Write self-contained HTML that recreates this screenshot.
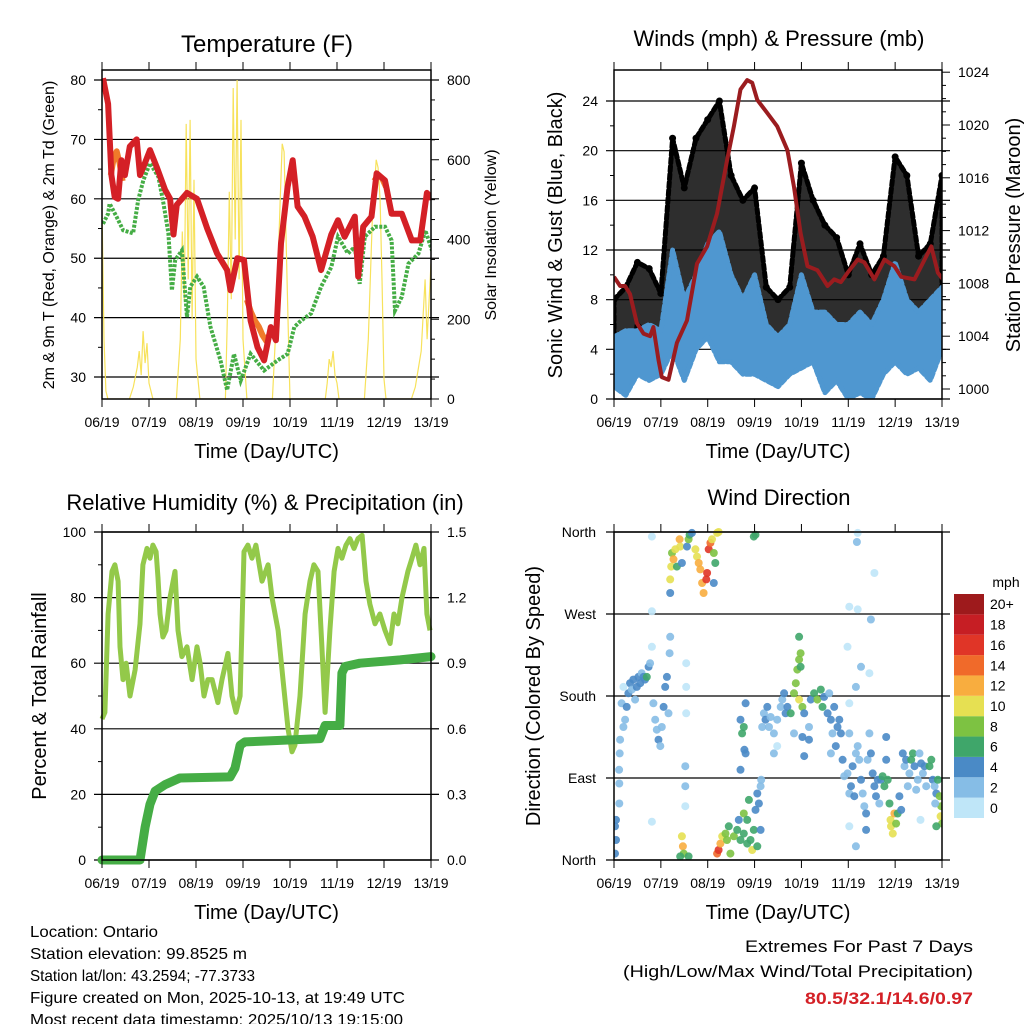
<!DOCTYPE html>
<html><head><meta charset="utf-8"><style>
html,body{margin:0;padding:0;background:#fff;}
svg{display:block;font-family:"Liberation Sans",Arial,sans-serif;}
</style></head><body>
<svg id="c" width="1024" height="1024" viewBox="0 0 1024 1024" xmlns="http://www.w3.org/2000/svg">
<rect width="1024" height="1024" fill="#fff"/>
</svg>
<script>
// ---------- data (hours since 06/19 19 UTC) ----------
const dayLabels = ["06/19","07/19","08/19","09/19","10/19","11/19","12/19","13/19"];
const tempHours = [0.5,3.1,4.8,6.5,8.2,9.9,11.7,14.2,17.7,19.4,21.9,24.5,27.9,32.2,34.8,36.5,38.2,43.4,48.5,53.7,58.8,63.9,65.6,69.1,72.5,75.9,79.4,82.8,86.2,88.8,91.4,94.8,97.4,99.9,103.4,107.6,111.9,117.1,120.5,123.9,129.1,130.8,133.4,137.6,140.2,144.5,147.9,153.1,158.2,162.5,165.9,168.5];
const tempValues = [80.3,76,64,60.3,60,66.5,64,68.8,70,64,66,68.2,65.4,61.5,60,54,59,61,60,55,50.8,48,44.6,50,49.7,39.5,35,32.8,38.4,36.2,52.5,62,66.5,58.7,57,53.6,48,54,56.4,53.6,57,46.9,55.3,57,64.3,63.1,57.5,57.5,53,53,61,60];
const temp9Hours = [4.5,6,7.5,9,10.5, 74,76,78,80,82,84,86, 139,141,143,145];
const temp9Values = [64,67,68,66,63, 43,41,39.5,38.5,37,36,37.5, 63,64,63.5,62];
const dewHours = [0.5,3.1,3.9,7.4,10.8,15.9,18.5,21.1,24.5,28.8,31.4,33.9,35.7,37.4,40.8,43.4,45.1,48.5,51.9,55.4,60.5,63.9,67.4,70.8,75.9,82.8,89.6,94.8,98.2,101.6,106.8,111.9,117.1,120.5,125.6,129.1,131.6,134.2,139.4,144.5,147.9,149.6,153.1,156.5,161.6,165.1,168.5];
const dewValues = [55.8,57.5,59.2,57,54.7,54.2,59.8,63.1,66,63.7,59.2,54.2,44.6,49.7,51.3,40.1,45.2,46.9,45.2,38.4,32.8,27.8,33.9,29.4,33.9,31.1,32.8,33.9,38.4,39.5,40.7,45.2,48.5,53.6,50.8,51.9,45.7,53.6,55.3,55.3,53,41.2,43.5,49.1,50.8,54.7,51.3];
const solarHours = [0,1,2,3,14,16,18,19,20,21,22,23,24,26,38,40,41,42,43,44,45,46,47,48,50,63,64,65,66,67,68,69,70,71,72,74,87,89,91,92,93,94,95,96,114,115,116,117,118,119,120,121,134,136,138,140,141,142,143,144,145,158,160,163,165,166,168];
const solarValues = [480,150,20,0,0,30,80,120,60,170,90,140,40,0,0,150,420,250,690,300,700,200,550,100,0,0,200,520,250,780,400,800,300,700,150,0,0,200,500,640,620,400,200,0,0,40,100,80,120,60,40,0,0,150,450,600,580,500,300,50,0,0,30,120,300,150,340];

const windHours = [0,6,12,18,24,30,36,42,48,54,60,66,72,78,84,90,96,102,108,114,120,126,132,138,144,150,156,162,168];
const windLo = [1,0.3,2,1.5,2,4,1.5,4,5,3,3,2,2,1.5,1,2,2.5,3,0.5,1.5,0,0.5,0,2,3,2,2.5,1.5,4];
const windHi = [5,5.5,5.5,6,5.5,12,8,10,12.5,13.5,10,8,10,6,5,6,10,7,7,6,6,7,6,8,11,8,7,8,9];
const gustLo = [4,3,6,5,4,10,8,10,11,12,9,8,8,4,4,4,8,7,6,5,4,5,4,6,8,7,5,5,8];
const gustHi = [8,9,11,10.5,8.5,21,17,21,22.5,24,18,16,17,9,8,9,19,16,14,13,10,12.5,10,11.5,19.5,18,11.5,12.5,18];
const presHours = [0,3.1,5.7,8.2,11.7,15.1,18.5,20.2,22.8,24.5,27.9,32.2,37.4,42.5,47.7,52.8,57.9,61.4,64.8,68.2,70.8,73.4,78.5,83.6,88.8,92.2,95.6,99.1,104.2,109.4,112.8,116.2,119.6,124.8,128.2,133.4,138.5,143.6,147.1,153.9,159.1,162.5,165.9,168.5];
const presValues = [1008.5,1007.8,1007.8,1007.2,1005,1004.2,1004,1004.7,1002.2,1000.9,1000.7,1003.5,1005.2,1009.5,1010.8,1013.3,1017.3,1019.9,1022.7,1023.4,1023.2,1021.9,1020.9,1019.9,1018.1,1015.3,1011.8,1009.3,1009,1007.8,1008.3,1008.1,1008.8,1009.8,1009.6,1008.3,1009.8,1009.3,1008.5,1008.3,1009.8,1010.8,1008.8,1008.3];

const rhHours = [0,1.5,3.1,5.1,6.6,8.2,9.2,10.7,12.3,14.3,16.9,19.4,20.9,23,24.5,26,27.6,28.6,29.6,31.1,32.7,34.7,37.3,38.8,40.8,43.4,46,48.5,50.1,52.1,54.1,56.2,59.2,61.3,64.3,66.4,68.4,70.5,72.5,74.5,76.6,78.6,81.7,84.8,86.8,89.9,92.4,95,97,98.5,101.1,103.7,106.2,108.2,110.3,112.3,113.9,116.4,118.5,120.5,122.5,124.6,126.6,128.7,130.7,132.8,134.8,136.8,139.4,141.9,144.5,147.1,149.1,151.1,153.2,156.2,158.3,160.3,162.4,164.4,165.9,167.5];
const rhValues = [43,45,75,88,90,85,65,55,60,50,58,72,90,95,92,96,94,86,75,68,70,80,88,70,62,65,55,65,60,50,55,55,48,55,63,50,45,50,94,96,92,96,85,90,80,70,55,40,33,35,50,75,85,90,88,65,45,70,88,95,92,96,98,95,98,99,85,78,72,75,70,66,75,72,80,88,92,96,90,95,75,70];
const rainHours = [0,19.4,22,24.5,27.1,32.2,39.8,65.4,67.9,70.5,73,111.3,113.9,121.5,122.5,124.1,131.7,152.2,168];
const rainValues = [0,0,0.15,0.255,0.315,0.345,0.375,0.38,0.42,0.525,0.54,0.555,0.615,0.615,0.855,0.885,0.9,0.915,0.93];

// wind direction observations: [hour, degrees, mph]
const dirObs = [
[0.5,7,4],[1,22,4],[0.5,37,4],[1,44,4],[2.7,62,2],[2.7,84,2],[2.6,99,2],[2.9,117,2],[3.1,132,2],
[3.9,172,2],[4.8,146,2],[5.7,154,3],[6.5,168,4],[7.4,183,4],[8.2,194,4],[9.1,187,3],[9.9,198,4],[10.8,176,3],[11.7,190,4],[12.5,201,4],[13.4,194,4],[14.2,205,3],[15.1,201,4],[15.9,198,5],[16.8,201,6],[17.7,212,4],[18.5,216,2],[4.8,190,1],[19.4,234,1],[19.4,273,1],[19.4,355,1],[19.4,42,1],
[20.2,172,2],[21.1,154,3],[21.9,143,2],[22.8,132,4],[23.7,125,3],[24.5,146,3],[25.4,168,4],[26.2,190,4],[27.1,201,4],[27.9,161,2],[28.5,227,3],[28.8,245,3],[28.8,293,4],
[28.8,308,10],[29.3,322,10],[29.7,337,8],[30.5,330,12],[31.4,341,10],[32.2,322,7],[33.6,352,12],[33.9,344,10],[34.8,326,4],[37.4,344,4],[38.2,352,8],[38.7,357,6],[39.9,359,4],[41.7,341,10],[42.5,333,10],[43.4,326,12],[44.2,319,12],[45.1,304,12],[45.9,293,12],[47.3,308,16],[47.7,315,16],[48.5,341,16],[49.4,348,14],[50.2,352,10],[51.1,337,8],[51.9,326,6],[51.1,304,4],[52.8,359,10],[53.6,360,10],[71.6,355,6],[72.5,357,7],
[34.8,26,10],[35.3,15,12],[35.7,7,8],[33.9,4,6],[38.2,4,6],[36.5,59,1],[36.5,81,2],[36.5,103,2],[37,161,1],[37,190,1],[37,216,1],
[52.8,7,14],[53.6,11,16],[54.5,18,12],[55.4,26,10],[57.1,29,8],[57.9,22,8],[58.8,37,6],[59.6,7,8],[61.4,26,8],[63.1,33,6],[63.9,44,5],[64.8,22,6],[66.5,51,8],[68.2,44,7],[69.1,66,6],[69.9,22,6],[70.8,11,10],[71.6,33,6],[72.5,55,5],[73.4,73,4],[74.2,62,4],[75.1,81,3],[75.4,88,3],[66.5,29,7],[68.2,18,6],[73.4,15,7],[75.1,33,5],
[64.8,154,4],[65.6,139,6],[66.5,146,6],[66.8,121,5],[67.4,117,4],[64.8,99,4],[67.4,172,4],
[75.9,146,2],[76.8,161,3],[77.6,154,4],[78.5,168,4],[79.4,146,3],[80.2,157,3],[81.9,139,2],[83.6,154,2],[85.4,168,3],[86.2,176,3],[87.1,183,4],[87.9,161,4],[88.8,168,5],[90.5,161,6],[92.2,183,8],[93.1,194,8],[93.9,209,8],[94.8,220,8],[95.6,212,7],[94.8,176,10],[95.6,227,8],[94.8,245,6],[96.5,168,8],[97.4,161,4],[96.5,135,4],[97.4,114,4],[81.9,117,2],[83.6,125,1],[92.2,139,2],[99.9,146,2],[99.9,132,4],
[100.8,176,4],[102.5,183,6],[104.2,176,8],[105.9,187,7],[106.8,168,6],[107.6,179,4],[109.4,161,4],[110.2,183,3],[111.1,154,4],[111.9,139,3],[112.8,168,4],[113.6,125,5],[114.5,146,4],[115.4,154,4],[111.1,117,2],[116.2,139,4],
[117.1,110,4],[117.9,92,3],[119.6,95,3],[120.5,73,2],[121.4,81,4],[122.2,103,4],[123.1,70,5],[123.9,117,3],[124.8,125,3],[125.6,110,2],[126.5,88,4],[127.4,73,3],[128.2,59,2],[129.1,51,4],[129.9,110,2],[130.8,139,2],[131.6,117,4],[120.5,139,2],[120.5,172,1],[119.6,234,1],[120.5,278,1],[123.9,190,2],[124.8,275,1],[126.5,212,2],[131.6,264,2],[130.8,205,1],[133.4,315,1],[124.8,359,1],[124.4,349,3],[120.5,37,1],[123.9,15,2],[129.1,33,4],
[132.5,95,4],[133.4,81,4],[134.2,70,4],[135.1,88,5],[135.9,62,3],[136.8,88,4],[137.6,92,6],[138.5,81,6],[139.4,110,4],[140.2,88,6],[139.4,135,4],[141.1,62,7],
[141.6,44,10],[141.9,37,10],[142.8,29,10],[143.6,51,12],[144.5,40,8],[145.3,51,6],[146.2,70,5],[147.1,55,4],
[147.9,117,4],[148.8,103,3],[149.6,110,4],[150.5,81,2],[151.3,95,3],[152.2,110,6],[153.1,117,6],[153.9,103,4],[154.8,77,3],[155.6,88,2],[156.5,117,2],[157.3,106,4],[158.2,95,3],[159.1,103,4],[159.9,81,2],[161.6,103,6],[162.5,110,6],[163.3,88,4],[164.2,81,3],[165.1,73,5],[165.9,88,7],[166.8,70,8],[167.6,59,9],[167.3,48,10],[168,40,8],[165.1,37,6],[157,44,1],[164.5,62,3]
];
const speedColors = ["#bfe6f8","#86bde6","#4a8ac6","#3fa66a","#7dc242","#e6e052","#f8ad3f","#f06a2a","#e03527","#c61e24","#9e1a1c"];
const speedLabels = ["0","2","4","6","8","10","12","14","16","18","20+"];

// ---------- helpers ----------
const NS="http://www.w3.org/2000/svg";
const svg=document.getElementById('c');
function el(tag,attrs,parent){const e=document.createElementNS(NS,tag);for(const k in attrs)e.setAttribute(k,attrs[k]);(parent||svg).appendChild(e);return e;}
function txt(s,x,y,size,anchor,parent,extra){const t=el('text',Object.assign({x:x,y:y,'font-size':size,'text-anchor':anchor||'middle',fill:'#000'},extra||{}),parent);t.textContent=s;return t;}
function pathFrom(xs,ys,fx,fy){let d='';for(let i=0;i<xs.length;i++){d+=(i?'L':'M')+fx(xs[i]).toFixed(1)+','+fy(ys[i]).toFixed(1);}return d;}

function frame(g,x0,y0,w,h){
  el('rect',{x:x0,y:y0,width:w,height:h,fill:'none',stroke:'#000','stroke-width':1.5},g);
  const xs=h2x(x0,w);
  dayLabels.forEach((lab,i)=>{const x=xs(i*24);
    el('line',{x1:x,y1:y0,x2:x,y2:y0-8,stroke:'#000','stroke-width':1},g);
    el('line',{x1:x,y1:y0+h,x2:x,y2:y0+h+8,stroke:'#000','stroke-width':1},g);
    const t=txt(lab,x,y0+h+28,14,'middle',g);
    
    
  });
  const xt=txt('Time (Day/UTC)',x0+w/2,y0+h+59,20,'middle',g);
  
  
}
function h2x(x0,w){return h=>x0+h/168*w;}
function grid(g,x0,w,y){el('line',{x1:x0-8,y1:y,x2:x0+w+8,y2:y,stroke:'#000','stroke-width':1.2},g);}

// ========== Panel 1: Temperature ==========
(function(){
  const g=el('g',{});  
  const x0=102,y0=70,w=329,h=329; const X=h2x(x0,w);
  const yT=v=>399-(v-26.3)*5.94; const yS=v=>399-v*319/800;
  [30,40,50,60,70,80].forEach(v=>{grid(g,x0,w,yT(v));const t=txt(String(v),86,yT(v)+5,14,'end',g);});
  [35,45,55,65,75].forEach(v=>el('line',{x1:x0-4,y1:yT(v),x2:x0,y2:yT(v),stroke:'#000'},g));
  [0,200,400,600,800].forEach(v=>{el('line',{x1:x0+w,y1:yS(v),x2:x0+w+8,y2:yS(v),stroke:'#000'},g);const t=txt(String(v),447,yS(v)+5,14,'start',g);});
  for(let v=50;v<800;v+=50){if(v%200)el('line',{x1:x0+w,y1:yS(v),x2:x0+w+4,y2:yS(v),stroke:'#000'},g);}
  const cp=el('clipPath',{id:'cp1'},g); el('rect',{x:x0,y:y0,width:w,height:h},cp);
  const d=el('g',{'clip-path':'url(#cp1)'},g);
  const s=el('path',{d:pathFrom(solarHours,solarValues,X,yS),fill:'none',stroke:'#f7e25c','stroke-width':1.2},d);  
  const dw=el('path',{d:pathFrom(dewHours,dewValues,X,yT),fill:'none',stroke:'#45ad45','stroke-width':4,'stroke-dasharray':'3 1.5'},d);  
  const o=el('path',{d:pathFrom(temp9Hours.slice(0,5),temp9Values.slice(0,5),X,yT)+pathFrom(temp9Hours.slice(5,12),temp9Values.slice(5,12),X,yT)+pathFrom(temp9Hours.slice(12),temp9Values.slice(12),X,yT),fill:'none',stroke:'#f07a2a','stroke-width':6,'stroke-linejoin':'round'},d);  
  const r=el('path',{d:pathFrom(tempHours,tempValues,X,yT),fill:'none',stroke:'#d42026','stroke-width':6,'stroke-linejoin':'round'},d);  
  frame(g,x0,y0,w,h);
  const t=txt('Temperature (F)',267,52,24,'middle',g);  
  const yl=txt('2m & 9m T (Red, Orange) & 2m Td (Green)',0,0,16,'middle',g,{transform:'translate(54,235) rotate(-90)'});  
  const yr=txt('Solar Insolation (Yellow)',0,0,16,'middle',g,{transform:'translate(496,235) rotate(-90)'});  
})();

// ========== Panel 2: Winds & Pressure ==========
(function(){
  const g=el('g',{});  
  const x0=614,y0=70,w=328,h=329; const X=h2x(x0,w);
  const yW=v=>399-v*298/24; const yP=v=>389-(v-1000)*13.2;
  [0,4,8,12,16,20,24].forEach(v=>{grid(g,x0,w,yW(v));const t=txt(String(v),598,yW(v)+5,14,'end',g);});
  [2,6,10,14,18,22].forEach(v=>el('line',{x1:x0-4,y1:yW(v),x2:x0,y2:yW(v),stroke:'#000'},g));
  [1000,1004,1008,1012,1016,1020,1024].forEach(v=>{el('line',{x1:x0+w,y1:yP(v),x2:x0+w+8,y2:yP(v),stroke:'#000'},g);const t=txt(String(v),958,yP(v)+5,14,'start',g);});
  for(let v=1001;v<1024;v++){if(v%4)el('line',{x1:x0+w,y1:yP(v),x2:x0+w+4,y2:yP(v),stroke:'#000'},g);}
  const cp=el('clipPath',{id:'cp2'},g); el('rect',{x:x0,y:y0,width:w,height:h},cp);
  const d=el('g',{'clip-path':'url(#cp2)'},g);
  function band(lo,hi,col,op,name){
    let p='';for(let i=0;i<windHours.length;i++)p+=(i?'L':'M')+X(windHours[i]).toFixed(1)+','+yW(hi[i]).toFixed(1);
    for(let i=windHours.length-1;i>=0;i--)p+='L'+X(windHours[i]).toFixed(1)+','+yW(lo[i]).toFixed(1);
    const e=el('path',{d:p+'Z',fill:col,'fill-opacity':op,stroke:col,'stroke-width':5,'stroke-linejoin':'round','stroke-dasharray':'5 3','stroke-linecap':'round'},d);
     
  }
  band(gustLo,gustHi,'#000',0.82,'gust-band');
  windHours.forEach((hh,i)=>{const c=el('circle',{cx:X(hh),cy:yW(gustHi[i]),r:3.5,fill:'#000'},d);});
  band(windLo,windHi,'#4f97d0',1,'wind-band');
  const p=el('path',{d:pathFrom(presHours,presValues,X,yP),fill:'none',stroke:'#9b1c1f','stroke-width':4,'stroke-linejoin':'round'},d);  
  frame(g,x0,y0,w,h);
  const t=txt('Winds (mph) & Pressure (mb)',779,46,22,'middle',g);  
  const yl=txt('Sonic Wind & Gust (Blue, Black)',0,0,20,'middle',g,{transform:'translate(562,235) rotate(-90)'});  
  const yr=txt('Station Pressure (Maroon)',0,0,20,'middle',g,{transform:'translate(1020,235) rotate(-90)'});  
})();

// ========== Panel 3: RH & Precip ==========
(function(){
  const g=el('g',{});  
  const x0=102,y0=532,w=329,h=328; const X=h2x(x0,w);
  const yR=v=>860-v*3.28; const yPr=v=>860-v/1.5*328;
  [0,20,40,60,80,100].forEach(v=>{grid(g,x0,w,yR(v));const t=txt(String(v),86,yR(v)+5,14,'end',g);});
  [10,30,50,70,90].forEach(v=>el('line',{x1:x0-4,y1:yR(v),x2:x0,y2:yR(v),stroke:'#000'},g));
  ["0.0","0.3","0.6","0.9","1.2","1.5"].forEach(s=>{const v=parseFloat(s);el('line',{x1:x0+w,y1:yPr(v),x2:x0+w+8,y2:yPr(v),stroke:'#000'},g);const t=txt(s,447,yPr(v)+5,14,'start',g);});
  const cp=el('clipPath',{id:'cp3'},g); el('rect',{x:x0-6,y:y0,width:w+12,height:h+6},cp);
  const d=el('g',{'clip-path':'url(#cp3)'},g);
  const r=el('path',{d:pathFrom(rhHours,rhValues,X,yR),fill:'none',stroke:'#93c94a','stroke-width':5,'stroke-linejoin':'round'},d);  
  const p=el('path',{d:pathFrom(rainHours,rainValues,X,yPr),fill:'none',stroke:'#45ad45','stroke-width':9,'stroke-linejoin':'round','stroke-linecap':'round'},d);  
  frame(g,x0,y0,w,h);
  const t=txt('Relative Humidity (%) & Precipitation (in)',265,510,22,'middle',g);  
  const yl=txt('Percent & Total Rainfall',0,0,20,'middle',g,{transform:'translate(46,696) rotate(-90)'});  
})();

// ========== Panel 4: Wind Direction ==========
(function(){
  const g=el('g',{});  
  const x0=614,y0=532,w=328,h=328; const X=h2x(x0,w);
  const yD=v=>860-v/360*328;
  const dirLabels=["North","East","South","West","North"];
  dirLabels.forEach((s,i)=>{const v=i*90;grid(g,x0,w,yD(v));const t=txt(s,596,yD(v)+5,14,'end',g);});
  const cp=el('clipPath',{id:'cp4'},g); el('rect',{x:x0,y:y0-4,width:w,height:h+8},cp);
  const d=el('g',{'clip-path':'url(#cp4)'},g);
  dirObs.forEach(o=>{const idx=Math.min(10,Math.floor(o[2]/2));
    const c=el('circle',{cx:X(o[0]).toFixed(1),cy:yD(o[1]).toFixed(1),r:4,fill:speedColors[idx],'fill-opacity':0.9},d);
    
    
  });
  frame(g,x0,y0,w,h);
  const t=txt('Wind Direction',779,505,22,'middle',g);  
  const yl=txt('Direction (Colored By Speed)',0,0,20,'middle',g,{transform:'translate(540,696) rotate(-90)'});  
  const cb=el('g',{},g);  
  const bh=224/11;
  speedColors.forEach((c,i)=>{const y=818-(i+1)*bh;
    const r=el('rect',{x:954,y:y,width:30,height:bh,fill:c},cb);
    
    
    const lt=txt(speedLabels[i],990,y+bh/2+5,14,'start',cb);
    
    
  });
  const u=txt('mph',1006,587,14,'middle',cb);  
})();

// ========== footer text ==========
(function(){
  const g=el('g',{});  
  const lines=[["Location: Ontario",128],["Station elevation: 99.8525 m",217],["Station lat/lon: 43.2594; -77.3733",225],["Figure created on Mon, 2025-10-13, at 19:49 UTC",375],["Most recent data timestamp: 2025/10/13 19:15:00",373]];
  lines.forEach((l,i)=>{const t=txt(l[0],30,937+i*22,16,'start',g,{textLength:l[1],lengthAdjust:'spacingAndGlyphs'});});
  const g2=el('g',{});  
  const a=txt('Extremes For Past 7 Days',973,952,17,'end',g2,{textLength:228,lengthAdjust:'spacingAndGlyphs'});  
  const b=txt('(High/Low/Max Wind/Total Precipitation)',973,977,17,'end',g2,{textLength:350,lengthAdjust:'spacingAndGlyphs'});  
  const c=txt('80.5/32.1/14.6/0.97',973,1004,17,'end',g2,{fill:'#d42026','font-weight':'bold',textLength:168,lengthAdjust:'spacingAndGlyphs'});  
})();
</script>
</body></html>
